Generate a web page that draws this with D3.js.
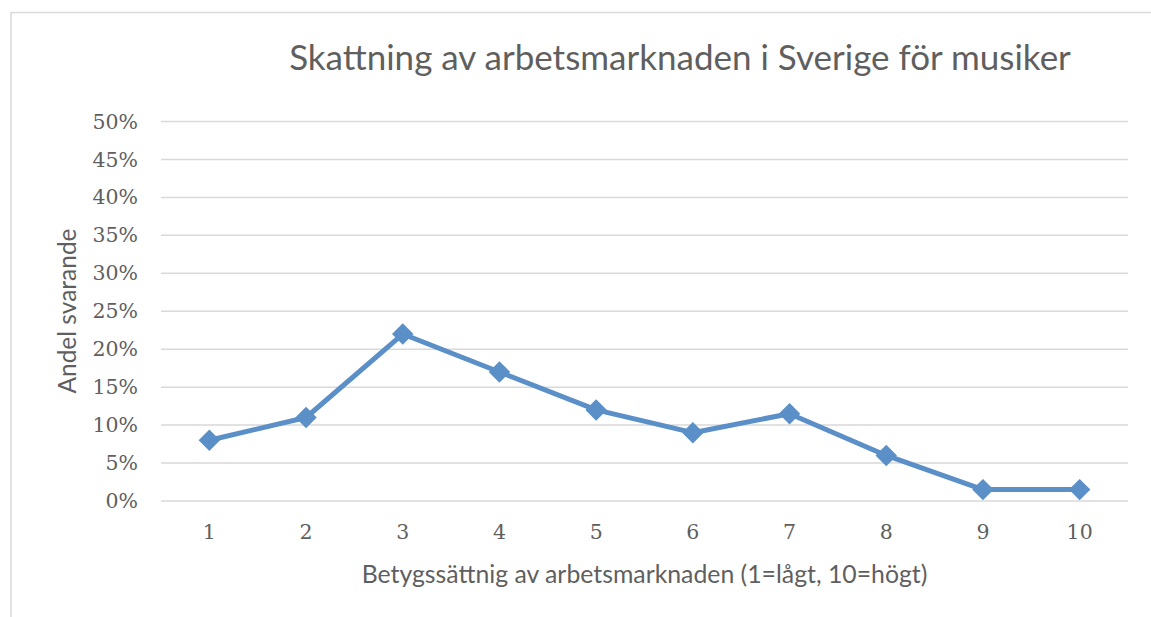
<!DOCTYPE html>
<meta charset="utf-8">
<script src="https://d3js.org/d3.v7.min.js"></script>
<style>
  body { margin: 0; background: #fff; }
  text { fill: #5f5f5f; }
</style>
<div id="chart"></div>
<script>
  // data
  var ratings = ["1", "2", "3", "4", "5", "6", "7", "8", "9", "10"];
  var shares = [0.08, 0.11, 0.22, 0.17, 0.12, 0.09, 0.115, 0.06, 0.015, 0.015];
  var yTicks = [0, 0.05, 0.10, 0.15, 0.20, 0.25, 0.30, 0.35, 0.40, 0.45, 0.50];

  var W = 1151, H = 617;
  var margin = {top: 121.5, right: 23, bottom: 116, left: 161};
  var width = W - margin.left - margin.right,
      height = H - margin.top - margin.bottom;

  var svg = d3.select("#chart").append("svg")
    .attr("width", W)
    .attr("height", H);

  // chart border (left + top visible)
  svg.append("rect")
    .attr("x", 11).attr("y", 12.5)
    .attr("width", W + 20).attr("height", H + 20)
    .attr("fill", "none")
    .attr("stroke", "#d9d9d9")
    .attr("stroke-width", 1.5);

  var g = svg.append("g")
    .attr("transform", "translate(" + margin.left + "," + margin.top + ")");

  var x = d3.scaleBand().domain(ratings).range([0, width]);
  var y = d3.scaleLinear().domain([0, 0.5]).range([height, 0]);

  // gridlines
  g.append("g")
    .selectAll("line")
    .data(yTicks)
    .enter().append("line")
    .attr("x1", 0).attr("x2", width)
    .attr("y1", function(d) { return y(d); })
    .attr("y2", function(d) { return y(d); })
    .attr("stroke", "#d9d9d9")
    .attr("stroke-width", 1.5);

  // y axis
  var yAxis = g.append("g")
    .call(d3.axisLeft(y).tickValues(yTicks).tickFormat(d3.format(".0%")).tickSize(0).tickPadding(23));
  yAxis.select(".domain").remove();
  yAxis.selectAll("text")
    .style("font-family", "'DejaVu Serif', serif")
    .style("font-size", "20.5px")
    .attr("fill", "#666");

  // x axis
  var xAxis = g.append("g")
    .attr("transform", "translate(0," + height + ")")
    .call(d3.axisBottom(x).tickSize(0).tickPadding(23));
  xAxis.select(".domain").remove();
  xAxis.selectAll("text")
    .style("font-family", "'DejaVu Serif', serif")
    .style("font-size", "20.5px")
    .attr("fill", "#666");

  var pts = ratings.map(function(r, i) { return {r: r, v: shares[i]}; });

  var line = d3.line()
    .x(function(d) { return x(d.r) + x.bandwidth() / 2; })
    .y(function(d) { return y(d.v); });

  g.append("path")
    .datum(pts)
    .attr("fill", "none")
    .attr("stroke", "#5b8fc7")
    .attr("stroke-width", 5)
    .attr("stroke-linejoin", "round")
    .attr("d", line);

  g.append("g")
    .selectAll("path")
    .data(pts)
    .enter().append("path")
    .attr("d", d3.symbol().type(d3.symbolSquare).size(230))
    .attr("transform", function(d) {
      return "translate(" + (x(d.r) + x.bandwidth() / 2) + "," + y(d.v) + ") rotate(45)";
    })
    .attr("fill", "#5b8fc7");

  // title
  svg.append("text")
    .attr("x", 680)
    .attr("y", 70)
    .attr("text-anchor", "middle")
    .style("font-family", "Lato, sans-serif")
    .style("font-size", "35px")
    .text("Skattning av arbetsmarknaden i Sverige för musiker");

  // x axis title
  svg.append("text")
    .attr("x", margin.left + width / 2)
    .attr("y", 583)
    .attr("text-anchor", "middle")
    .style("font-family", "Lato, sans-serif")
    .style("font-size", "24.8px")
    .text("Betygssättnig av arbetsmarknaden (1=lågt, 10=högt)");

  // y axis title
  svg.append("text")
    .attr("transform", "translate(76,311) rotate(-90)")
    .attr("text-anchor", "middle")
    .style("font-family", "Lato, sans-serif")
    .style("font-size", "24.5px")
    .text("Andel svarande");
</script>
